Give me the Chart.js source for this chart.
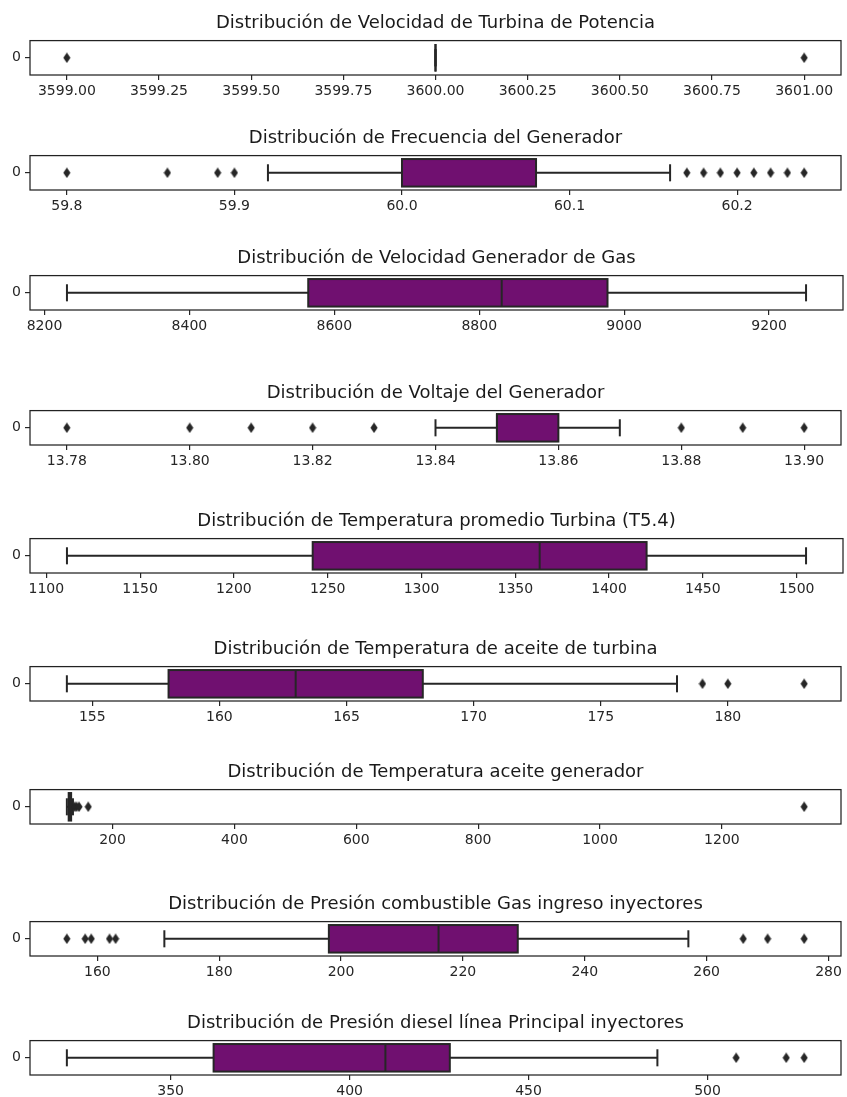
<!DOCTYPE html>
<html>
<head>
<meta charset="utf-8">
<script src="https://cdn.jsdelivr.net/npm/chart.js@4.4.1/dist/chart.umd.min.js"></script>
<style>
  html, body { margin: 0; padding: 0; background: #fff; width: 847px; height: 1097px; overflow: hidden; position: relative; }
  canvas { position: absolute; left: 0; }
</style>
</head>
<body>
<script>
// Panel titles, one box plot per panel
const titles = [
  'Distribución de Velocidad de Turbina de Potencia',
  'Distribución de Frecuencia del Generador',
  'Distribución de Velocidad Generador de Gas',
  'Distribución de Voltaje del Generador',
  'Distribución de Temperatura promedio Turbina (T5.4)',
  'Distribución de Temperatura de aceite de turbina',
  'Distribución de Temperatura aceite generador',
  'Distribución de Presión combustible Gas ingreso inyectores',
  'Distribución de Presión diesel línea Principal inyectores'
];

// Five-number summaries
const whiskerLow  = [3600, 59.92, 8231, 13.84, 1111, 154, 125, 171, 321];
const q1          = [3600, 60.00, 8564, 13.85, 1242, 158, 128, 198, 362];
const medians     = [3600, 60.00, 8831, 13.85, 1363, 163, 130, 216, 410];
const q3          = [3600, 60.08, 8977, 13.86, 1420, 168, 132, 229, 428];
const whiskerHigh = [3600, 60.16, 9251, 13.87, 1505, 178, 135, 257, 486];

// Points beyond the whiskers
const outliers = [
  [3599, 3601],
  [59.80, 59.86, 59.89, 59.90, 60.17, 60.18, 60.19, 60.20, 60.21, 60.22, 60.23, 60.24],
  [],
  [13.78, 13.80, 13.81, 13.82, 13.83, 13.88, 13.89, 13.90],
  [],
  [179, 180, 183],
  [138, 141, 145, 160, 1335],
  [155, 158, 159, 162, 163, 266, 270, 276],
  [508, 522, 527]
];

// x-axis tick labels per panel
const tickLabels = [
  ['3599.00', '3599.25', '3599.50', '3599.75', '3600.00', '3600.25', '3600.50', '3600.75', '3601.00'],
  ['59.8', '59.9', '60.0', '60.1', '60.2'],
  ['8200', '8400', '8600', '8800', '9000', '9200'],
  ['13.78', '13.80', '13.82', '13.84', '13.86', '13.88', '13.90'],
  ['1100', '1150', '1200', '1250', '1300', '1350', '1400', '1450', '1500'],
  ['155', '160', '165', '170', '175', '180'],
  ['200', '400', '600', '800', '1000', '1200'],
  ['160', '180', '200', '220', '240', '260', '280'],
  ['350', '400', '450', '500']
];

// Vertical placement of each panel's axes box
const axisTops = [41, 156, 276, 411, 539, 667, 790, 922, 1041];

const BOX_FILL = '#701070';
const LINE = '#262626';
const FONT = 'DejaVu Sans';

// Thin diamond marker for outliers
const diamond = (() => {
  const c = document.createElement('canvas');
  c.width = 8; c.height = 11;
  const g = c.getContext('2d');
  g.fillStyle = LINE;
  g.beginPath();
  g.moveTo(4, 0.3); g.lineTo(7.6, 5.5); g.lineTo(4, 10.7); g.lineTo(0.4, 5.5);
  g.closePath(); g.fill();
  return c;
})();

// Whiskers, caps, box outline and median, placed through the chart scales
const boxWhiskerPlugin = {
  id: 'boxWhisker',
  afterDatasetDraw(chart, args, opts) {
    if (args.meta.type !== 'bar') return;
    const i = opts.panel;
    const ctx = chart.ctx;
    const xs = chart.scales.x, ys = chart.scales.y;
    const bar = args.meta.data[0];
    const yc = ys.getPixelForValue(0);
    const half = bar.height / 2;
    const cap = half * 0.62;
    const px = v => xs.getPixelForValue(v);
    const seg = (x1, y1, x2, y2) => { ctx.beginPath(); ctx.moveTo(x1, y1); ctx.lineTo(x2, y2); ctx.stroke(); };
    ctx.save();
    ctx.strokeStyle = LINE;
    ctx.lineWidth = 2;
    ctx.lineCap = 'butt';
    seg(px(whiskerLow[i]), yc, px(q1[i]), yc);
    seg(px(q3[i]), yc, px(whiskerHigh[i]), yc);
    seg(px(whiskerLow[i]), yc - cap, px(whiskerLow[i]), yc + cap);
    seg(px(whiskerHigh[i]), yc - cap, px(whiskerHigh[i]), yc + cap);
    ctx.strokeRect(px(q1[i]), yc - half, px(q3[i]) - px(q1[i]), 2 * half);
    seg(px(medians[i]), yc - half, px(medians[i]), yc + half);
    ctx.restore();
  }
};

// Four-sided axes frame
const framePlugin = {
  id: 'frame',
  afterDraw(chart) {
    const { ctx, chartArea: a } = chart;
    ctx.save();
    ctx.strokeStyle = '#222';
    ctx.lineWidth = 1.25;
    ctx.strokeRect(a.left, a.top, a.right - a.left, a.bottom - a.top);
    ctx.restore();
  }
};

titles.forEach((title, i) => {
  const canvas = document.createElement('canvas');
  canvas.width = 847;
  canvas.height = 102;
  canvas.style.top = (axisTops[i] - 36) + 'px';
  document.body.appendChild(canvas);

  const all = outliers[i].concat([whiskerLow[i], whiskerHigh[i]]);
  const lo = Math.min(...all), hi = Math.max(...all);
  const pad = (hi - lo) * 0.05;

  new Chart(canvas, {
    type: 'bar',
    data: {
      labels: ['0'],
      datasets: [
        {
          type: 'scatter',
          data: outliers[i].map(v => ({ x: v, y: '0' })),
          pointStyle: diamond,
          pointRadius: 5,
          order: 1
        },
        {
          type: 'bar',
          data: [[q1[i], q3[i]]],
          backgroundColor: BOX_FILL,
          borderWidth: 0,
          barPercentage: 0.8,
          categoryPercentage: 1,
          order: 2
        }
      ]
    },
    options: {
      indexAxis: 'y',
      responsive: false,
      animation: false,
      events: [],
      devicePixelRatio: 1,
      layout: { padding: { left: 0, right: 4, top: 0, bottom: 0 } },
      plugins: {
        legend: { display: false },
        tooltip: { enabled: false },
        title: {
          display: true,
          text: title,
          fullSize: false,
          color: '#1a1a1a',
          font: { family: FONT, size: 18, weight: 'normal', lineHeight: 1.2 },
          padding: { top: 8, bottom: 6 }
        },
        boxWhisker: { panel: i }
      },
      scales: {
        x: {
          type: 'linear',
          position: 'bottom',
          min: lo - pad,
          max: hi + pad,
          afterBuildTicks: s => { s.ticks = tickLabels[i].map(l => ({ value: parseFloat(l) })); },
          afterFit: s => { s.height = 32; },
          ticks: {
            callback: (v, idx) => tickLabels[i][idx],
            font: { family: FONT, size: 14 },
            color: '#262626',
            padding: 3,
            maxRotation: 0,
            autoSkip: false
          },
          grid: { drawOnChartArea: false, drawTicks: true, tickLength: 5, color: '#262626', lineWidth: 1.2 },
          border: { display: false }
        },
        y: {
          type: 'category',
          labels: ['0'],
          offset: true,
          afterFit: s => { s.width = 30; },
          ticks: { font: { family: FONT, size: 14 }, color: '#262626', padding: 4 },
          grid: { drawOnChartArea: false, drawTicks: true, tickLength: 5, color: '#262626', lineWidth: 1.2, offset: false },
          border: { display: false }
        }
      }
    },
    plugins: [boxWhiskerPlugin, framePlugin]
  });
});
</script>
</body>
</html>
